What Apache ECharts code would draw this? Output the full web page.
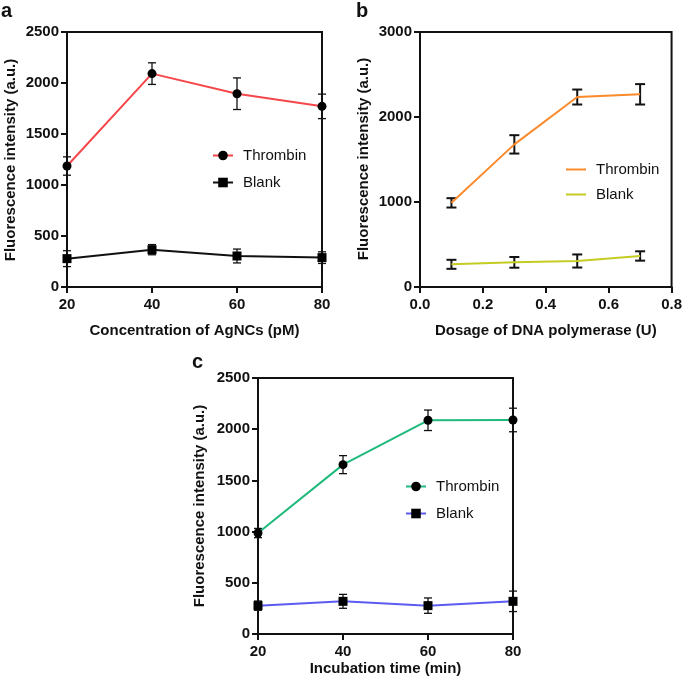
<!DOCTYPE html>
<html>
<head>
<meta charset="utf-8">
<script src="https://cdn.jsdelivr.net/npm/echarts@6/dist/echarts.min.js"></script>
<style>html,body{margin:0;padding:0;background:#fff}#chart{width:685px;height:685px}</style>
</head>
<body>
<div id="chart"></div>
<script>
// ---- Data ----
const seriesNames = ['Thrombin', 'Blank'];

// Panel a
const aX = [20, 40, 60, 80];
const aThrombin = [1186, 2092, 1895, 1771];
const aThrombinErr = [90, 106, 155, 120];
const aBlank = [278, 366, 304, 288];
const aBlankErr = [78, 50, 68, 57];
const aYTicks = [0, 500, 1000, 1500, 2000, 2500];
const aXTicks = [20, 40, 60, 80];

// Panel b
const bX = [0.1, 0.3, 0.5, 0.7];
const bThrombin = [990, 1678, 2235, 2267];
const bThrombinErr = [55, 108, 88, 120];
const bBlank = [267, 290, 306, 365];
const bBlankErr = [53, 63, 77, 55];
const bYTicks = [0, 1000, 2000, 3000];
const bXTicks = [0.0, 0.2, 0.4, 0.6, 0.8];

// Panel c
const cX = [20, 40, 60, 80];
const cThrombin = [986, 1654, 2087, 2090];
const cThrombinErr = [45, 88, 100, 115];
const cBlank = [277, 319, 277, 319];
const cBlankErr = [45, 68, 75, 100];
const cYTicks = [0, 500, 1000, 1500, 2000, 2500];
const cXTicks = [20, 40, 60, 80];

const titles = {
  aX: 'Concentration of AgNCs (pM)',
  bX: 'Dosage of DNA polymerase (U)',
  cX: 'Incubation time (min)',
  y: 'Fluorescence intensity (a.u.)'
};

// ---- Chart ----
const FONT = '"Liberation Sans", Arial, Helvetica, sans-serif';
const INK = '#111';

function zip(xs, ys) { return xs.map((x, i) => [x, ys[i]]); }
function zip3(xs, ys, es) { return xs.map((x, i) => [x, ys[i], es[i]]); }

function errRender(capHalf, lw) {
  return function (params, api) {
    const x = api.value(0), y = api.value(1), e = api.value(2);
    const t = api.coord([x, y + e]);
    const b = api.coord([x, y - e]);
    const st = { stroke: INK, lineWidth: lw };
    return {
      type: 'group',
      children: [
        { type: 'line', shape: { x1: t[0], y1: t[1], x2: b[0], y2: b[1] }, style: st },
        { type: 'line', shape: { x1: t[0] - capHalf, y1: t[1], x2: t[0] + capHalf, y2: t[1] }, style: st },
        { type: 'line', shape: { x1: b[0] - capHalf, y1: b[1], x2: b[0] + capHalf, y2: b[1] }, style: st }
      ]
    };
  };
}

function xAxisCfg(idx, ticks, name, gap, fmt) {
  return {
    gridIndex: idx, type: 'value',
    min: ticks[0], max: ticks[ticks.length - 1], interval: ticks[1] - ticks[0],
    name: name, nameLocation: 'middle', nameGap: gap,
    nameTextStyle: { fontFamily: FONT, fontWeight: 'bold', fontSize: 15, color: INK },
    axisLine: { show: true, onZero: false, lineStyle: { color: INK, width: 2 } },
    axisTick: { show: true, inside: false, length: 6, lineStyle: { color: INK, width: 2 } },
    axisLabel: { fontFamily: FONT, fontWeight: 'bold', fontSize: 15, color: INK, margin: 10,
      formatter: fmt || (v => String(v)) },
    splitLine: { show: false }
  };
}
function yAxisCfg(idx, ticks) {
  return {
    gridIndex: idx, type: 'value',
    min: ticks[0], max: ticks[ticks.length - 1], interval: ticks[1] - ticks[0],
    axisLine: { show: true, onZero: false, lineStyle: { color: INK, width: 2 } },
    axisTick: { show: true, inside: false, length: 6, lineStyle: { color: INK, width: 2 } },
    axisLabel: { fontFamily: FONT, fontWeight: 'bold', fontSize: 15, color: INK, margin: 8,
      formatter: v => String(v) },
    splitLine: { show: false }
  };
}

function lineSeries(name, idx, xs, ys, color, symbol) {
  return {
    name: name, type: 'line', xAxisIndex: idx, yAxisIndex: idx,
    data: zip(xs, ys), clip: false, z: 3,
    symbol: symbol || 'none', symbolSize: 9,
    itemStyle: { color: symbol ? '#000' : color },
    lineStyle: { color: color, width: 2 },
    emphasis: { disabled: true }
  };
}
function errSeries(idx, xs, ys, es, capHalf, lw) {
  return {
    type: 'custom', xAxisIndex: idx, yAxisIndex: idx, z: 2, clip: false,
    data: zip3(xs, ys, es), renderItem: errRender(capHalf, lw),
    encode: { x: 0, y: 1 }, silent: true
  };
}

const A1 = seriesNames[0], A2 = seriesNames[1];
const B1 = seriesNames[0] + ' ', B2 = seriesNames[1] + ' ';
const C1 = seriesNames[0] + '  ', C2 = seriesNames[1] + '  ';

function legendCfg(left, top, names, gap, itemH, icon) {
  return {
    orient: 'vertical', left: left, top: top, padding: 0,
    data: names.map(n => icon ? { name: n, icon: icon } : { name: n }),
    itemWidth: 20, itemHeight: itemH, itemGap: gap, selectedMode: false,
    formatter: n => n.trim(),
    textStyle: { fontFamily: FONT, fontSize: 15, color: INK, padding: [0, 0, 0, 5], height: 14, lineHeight: 14 }
  };
}

function yTitle(x, y) {
  return {
    type: 'text', x: x, y: y, rotation: Math.PI / 2,
    style: { text: titles.y, fontFamily: FONT, fontWeight: 'bold', fontSize: 15, fill: INK,
      textAlign: 'center', textVerticalAlign: 'middle', align: 'center', verticalAlign: 'middle' }
  };
}
function panelLabel(txt, x, y) {
  return {
    type: 'text', x: x, y: y,
    style: { text: txt, fontFamily: FONT, fontWeight: 'bold', fontSize: 20, fill: INK,
      textAlign: 'left', textVerticalAlign: 'top', align: 'left', verticalAlign: 'top' }
  };
}

const gridStyle = { show: true, borderColor: INK, borderWidth: 2, backgroundColor: 'transparent', containLabel: false };

const option = {
  animation: false,
  grid: [
    Object.assign({ left: 67, top: 32, width: 255, height: 255 }, gridStyle),
    Object.assign({ left: 420, top: 32, width: 255, height: 255 }, gridStyle),
    Object.assign({ left: 258, top: 378, width: 255, height: 256 }, gridStyle)
  ],
  xAxis: [
    xAxisCfg(0, aXTicks, titles.aX, 36),
    xAxisCfg(1, bXTicks, titles.bX, 36, v => v.toFixed(1)),
    xAxisCfg(2, cXTicks, titles.cX, 27)
  ],
  yAxis: [yAxisCfg(0, aYTicks), yAxisCfg(1, bYTicks), yAxisCfg(2, cYTicks)],
  legend: [
    legendCfg(212, 148, [A1, A2], 12, 12, null),
    legendCfg(566, 162, [B1, B2], 10, 2, 'rect'),
    legendCfg(405, 479, [C1, C2], 12, 12, null)
  ],
  graphic: [
    yTitle(11, 160), yTitle(364, 159), yTitle(200, 506),
    panelLabel('a', 1, 1), panelLabel('b', 356, 1), panelLabel('c', 192, 352)
  ],
  series: [
    errSeries(0, aX, aThrombin, aThrombinErr, 4, 1.3),
    errSeries(0, aX, aBlank, aBlankErr, 4, 1.3),
    lineSeries(A1, 0, aX, aThrombin, '#f5474a', 'circle'),
    lineSeries(A2, 0, aX, aBlank, '#111111', 'rect'),

    errSeries(1, bX, bThrombin, bThrombinErr, 5, 2),
    errSeries(1, bX, bBlank, bBlankErr, 5, 2),
    lineSeries(B1, 1, bX, bThrombin, '#fa8a2c', null),
    lineSeries(B2, 1, bX, bBlank, '#c4cc22', null),

    errSeries(2, cX, cThrombin, cThrombinErr, 4, 1.3),
    errSeries(2, cX, cBlank, cBlankErr, 4, 1.3),
    lineSeries(C1, 2, cX, cThrombin, '#1fba7c', 'circle'),
    lineSeries(C2, 2, cX, cBlank, '#5b5bf0', 'rect')
  ]
};

const chart = echarts.init(document.getElementById('chart'), null, { renderer: 'canvas' });
chart.setOption(option);
</script>
</body>
</html>
